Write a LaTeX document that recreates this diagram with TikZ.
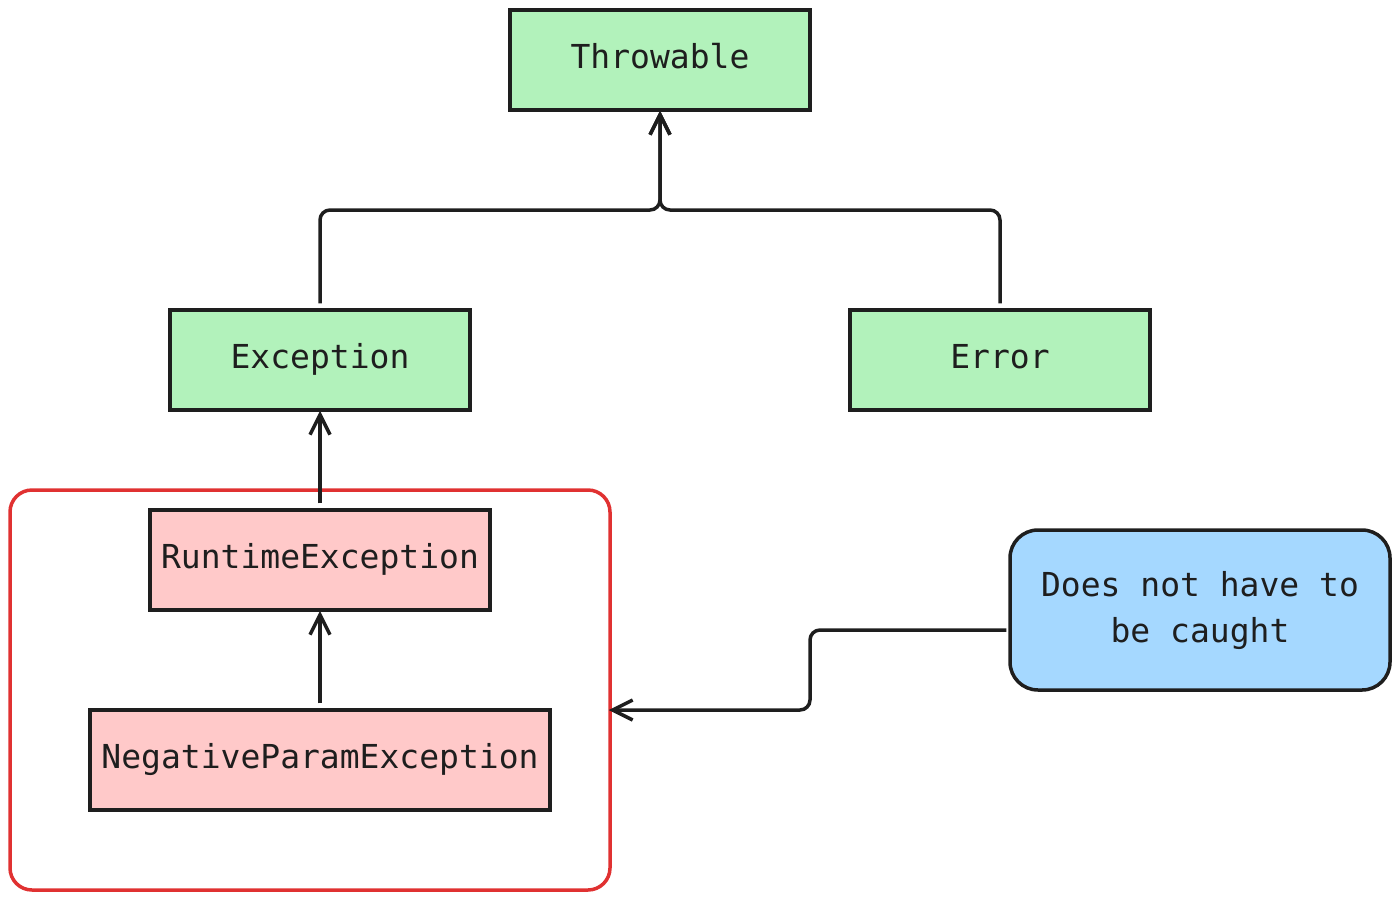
\documentclass[tikz,border=0pt]{standalone}
\usepackage{fontspec}
\setmonofont{DejaVu Sans Mono}
\usetikzlibrary{arrows.meta}
\definecolor{greenfill}{HTML}{B2F2BB}
\definecolor{redfill}{HTML}{FFC9C9}
\definecolor{bluefill}{HTML}{A5D8FF}
\definecolor{redline}{HTML}{E03131}
\definecolor{ink}{HTML}{1E1E1E}
\begin{document}
\begin{tikzpicture}[x=1pt,y=-1pt,
  box/.style={draw=ink,line width=3.5pt,inner sep=0pt,font=\fontsize{33}{40}\selectfont\ttfamily,text=ink},
  gbox/.style={box,fill=greenfill,text height=24pt,text depth=7pt},
  rbox/.style={box,fill=redfill,text height=24pt,text depth=7pt},
  conn/.style={draw=ink,line width=3.5pt,rounded corners=10pt,-{Straight Barb[length=20pt,width=20pt,line width=3.5pt]}}
]
\useasboundingbox (0,0) rectangle (1400,900);
\node[gbox,minimum width=300pt,minimum height=100pt] (thr) at (660,60) {Throwable};
\node[gbox,minimum width=300pt,minimum height=100pt] (exc) at (320,360) {Exception};
\node[gbox,minimum width=300pt,minimum height=100pt] (err) at (1000,360) {Error};
\node[draw=redline,line width=3.5pt,rounded corners=22pt,minimum width=600pt,minimum height=400pt] (grp) at (310,690) {};
\node[rbox,minimum width=340pt,minimum height=100pt] (rte) at (320,560) {RuntimeException};
\node[rbox,minimum width=460pt,minimum height=100pt] (npe) at (320,760) {NegativeParamException};
\node[box,fill=bluefill,rounded corners=28pt,minimum width=380pt,minimum height=160pt,align=center] (note) at (1200,610) {Does not have to\\[6pt]be caught};
\coordinate (tb) at ([yshift=1pt]thr.south);
\draw[conn] ([yshift=5pt]exc.north) |- (660,210) -- (tb);
\draw[conn] ([yshift=5pt]err.north) |- (660,210) -- (tb);
\draw[conn] ([yshift=5pt]rte.north) -- ([yshift=1pt]exc.south);
\draw[conn] ([yshift=5pt]npe.north) -- ([yshift=1pt]rte.south);
\draw[conn] ([xshift=-2pt]note.west |- 0,630) -- (810,630) -- (810,710) -- ([xshift=-3pt]grp.east |- 0,710);
\end{tikzpicture}
\end{document}
